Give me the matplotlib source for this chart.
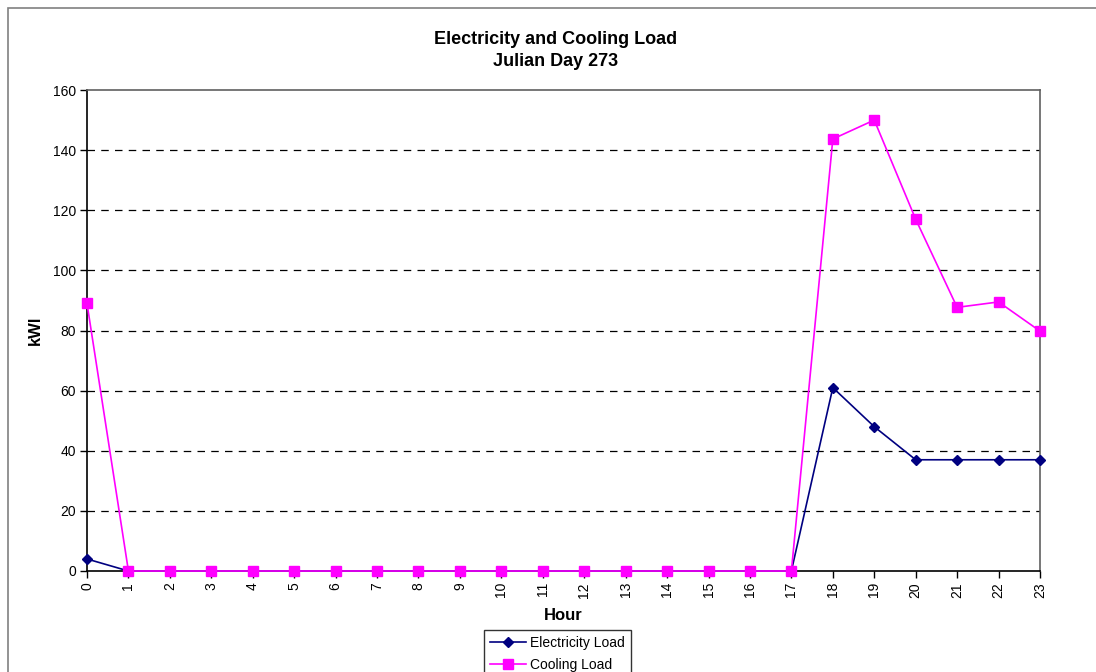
import matplotlib
matplotlib.use('Agg')
import matplotlib.pyplot as plt
from matplotlib.patches import Rectangle

plt.rcParams['font.family'] = ['Liberation Sans', 'DejaVu Sans']

# hourly loads, Julian day 273
hours = list(range(24))
electricity = [4, 0, 0, 0, 0, 0, 0, 0, 0, 0, 0, 0, 0, 0, 0, 0, 0, 0,
               61, 48, 37, 37, 37, 37]
cooling = [89, 0, 0, 0, 0, 0, 0, 0, 0, 0, 0, 0, 0, 0, 0, 0, 0, 0,
           143.7, 150, 117, 87.7, 89.5, 79.8]
yticks = [0, 20, 40, 60, 80, 100, 120, 140, 160]

fig = plt.figure(figsize=(10.96, 6.72), dpi=100)
W, H = 1096, 672

# outer chart border (runs off the right and bottom edges)
fig.patches.append(Rectangle((8 / W, -0.05), 1.1, 1 - 8 / H + 0.05,
                             transform=fig.transFigure, fill=False,
                             edgecolor='#808080', linewidth=1.2))

ax = fig.add_axes([87 / W, 1 - 571 / H, (1040 - 87) / W, (571 - 90) / H])

ax.plot(hours, electricity, color='#000080', marker='D', markersize=5,
        linewidth=1.2, label='Electricity Load', clip_on=False, zorder=3)
ax.plot(hours, cooling, color='#FF00FF', marker='s', markersize=7,
        linewidth=1.2, label='Cooling Load', clip_on=False, zorder=4)

ax.set_xlim(0, 23)
ax.set_ylim(0, 160)
ax.set_xticks(hours)
ax.set_xticklabels([str(h) for h in hours], rotation=90, fontsize=10)
ax.set_yticks(yticks)
ax.set_yticklabels([str(v) for v in yticks], fontsize=10)
ax.tick_params(direction='out', length=5, width=1, color='black', pad=3)

for v in yticks[1:-1]:
    ax.axhline(v, color='black', linestyle=(0, (6, 5)), linewidth=0.9, zorder=1)

for side in ['left', 'bottom']:
    ax.spines[side].set_color('black')
    ax.spines[side].set_linewidth(1.2)
for side in ['top', 'right']:
    ax.spines[side].set_color('#606060')
    ax.spines[side].set_linewidth(1.2)

ax.set_xlabel('Hour', fontsize=12, fontweight='bold', labelpad=7)
ax.set_ylabel('kWl', fontsize=12, fontweight='bold', labelpad=7)

fig.text(556 / W, 1 - 39 / H, 'Electricity and Cooling Load', ha='center',
         va='center', fontsize=13, fontweight='bold')
fig.text(556 / W, 1 - 61 / H, 'Julian Day 273', ha='center', va='center',
         fontsize=13, fontweight='bold')

leg = fig.legend(loc='upper left', bbox_to_anchor=(484 / W, 1 - 630 / H),
                 fontsize=10, frameon=True, fancybox=False,
                 edgecolor='black', borderpad=0.45, handlelength=2.6,
                 handletextpad=0.25, labelspacing=0.55, borderaxespad=0)
leg.get_frame().set_linewidth(1)

fig.savefig('out.png', dpi=100)
